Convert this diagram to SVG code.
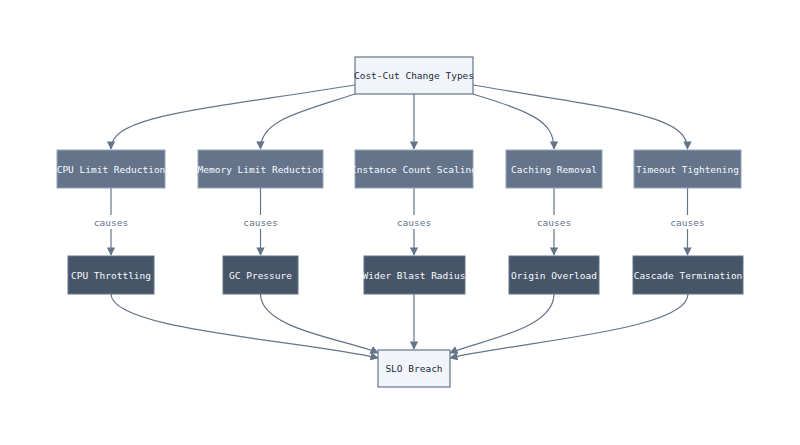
<svg xmlns="http://www.w3.org/2000/svg" width="800" height="445" viewBox="0 0 800 445">
<style>
text{font-family:"DejaVu Sans Mono","Liberation Mono",monospace;font-size:9.5px;text-anchor:middle;dominant-baseline:central}
.top rect{fill:#f1f5f9;stroke:#64748b;stroke-width:1.2}
.top text{fill:#1e293b}
.mid rect{fill:#64748b;stroke:#94a3b8;stroke-width:1}
.bot rect{fill:#475569;stroke:#64748b;stroke-width:1}
.mid text,.bot text{fill:#f8fafc}
.e{fill:none;stroke:#64748b;stroke-width:1.2;marker-end:url(#a)}
.lbl{fill:#64748b}
</style>
<defs><marker id="a" viewBox="0 0 10 10" refX="9" refY="5" markerWidth="7" markerHeight="7" orient="auto"><path d="M0,0L10,5L0,10z" fill="#64748b"/></marker></defs>
<rect width="800" height="445" fill="#fff"/>
<g id="edges">
<path class="e" d="M355,85 C200,110 111,115 111,149"/>
<path class="e" d="M355,94 C300,112 260,120 260.5,149"/>
<path class="e" d="M414,94 L414,149"/>
<path class="e" d="M473,94 C530,112 554,120 554,149"/>
<path class="e" d="M473,85 C620,110 687.5,115 687.5,149"/>
<path class="e" d="M111,188 L111,255"/>
<path class="e" d="M260.5,188 L260.5,255"/>
<path class="e" d="M414,188 L414,255"/>
<path class="e" d="M554,188 L554,255"/>
<path class="e" d="M687.5,188 L687.5,255"/>
<path class="e" d="M111,294 C111,330 300,340 378,358"/>
<path class="e" d="M260.5,294 C260.5,330 350,340 378,353"/>
<path class="e" d="M414,294 L414,349"/>
<path class="e" d="M554,294 C554,330 480,340 450,353"/>
<path class="e" d="M688,294 C688,330 530,340 450,358"/>
<g class="lbl">
<rect x="93" y="215" width="36" height="14" fill="#fff"/><text x="111" y="222" class="lbl">causes</text>
<rect x="242.5" y="215" width="36" height="14" fill="#fff"/><text x="260.5" y="222" class="lbl">causes</text>
<rect x="396" y="215" width="36" height="14" fill="#fff"/><text x="414" y="222" class="lbl">causes</text>
<rect x="536" y="215" width="36" height="14" fill="#fff"/><text x="554" y="222" class="lbl">causes</text>
<rect x="669.5" y="215" width="36" height="14" fill="#fff"/><text x="687.5" y="222" class="lbl">causes</text>
</g>
</g>
<g id="n0" class="top"><rect x="355" y="57" width="118" height="37"/><text x="414" y="75.5">Cost-Cut Change Types</text></g>
<g id="n1" class="mid"><rect x="57" y="150" width="108" height="38"/><text x="111" y="169">CPU Limit Reduction</text></g>
<g id="n2" class="mid"><rect x="198" y="150" width="125" height="38"/><text x="260.5" y="169">Memory Limit Reduction</text></g>
<g id="n3" class="mid"><rect x="355" y="150" width="118" height="38"/><text x="414" y="169">Instance Count Scaling</text></g>
<g id="n4" class="mid"><rect x="506" y="150" width="96" height="38"/><text x="554" y="169">Caching Removal</text></g>
<g id="n5" class="mid"><rect x="634" y="150" width="107" height="38"/><text x="687.5" y="169">Timeout Tightening</text></g>
<g id="n6" class="bot"><rect x="68" y="256" width="86" height="38"/><text x="111" y="275">CPU Throttling</text></g>
<g id="n7" class="bot"><rect x="223" y="256" width="75" height="38"/><text x="260.5" y="275">GC Pressure</text></g>
<g id="n8" class="bot"><rect x="364" y="256" width="101" height="38"/><text x="414" y="275">Wider Blast Radius</text></g>
<g id="n9" class="bot"><rect x="509" y="256" width="90" height="38"/><text x="554" y="275">Origin Overload</text></g>
<g id="n10" class="bot"><rect x="633" y="256" width="110" height="38"/><text x="688" y="275">Cascade Termination</text></g>
<g id="n11" class="top"><rect x="378" y="350" width="72" height="37"/><text x="414" y="368.5">SLO Breach</text></g>
</svg>
